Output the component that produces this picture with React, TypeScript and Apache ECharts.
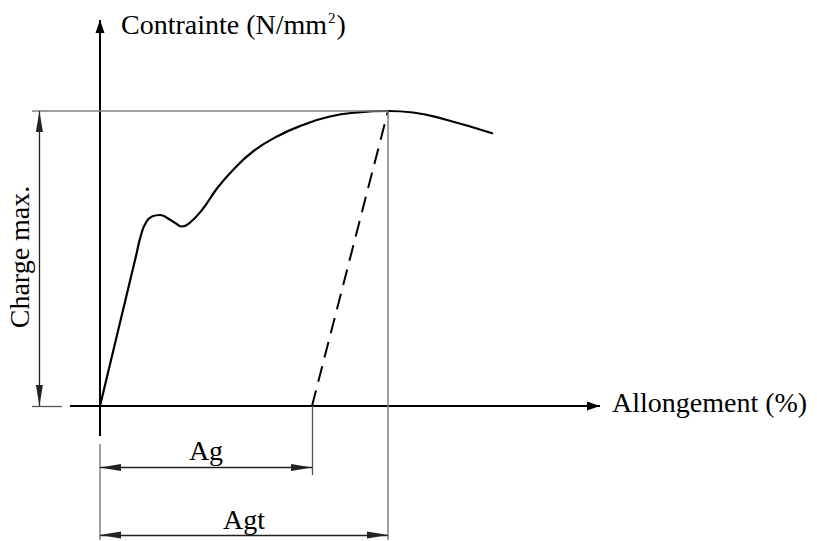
import React, { useEffect, useRef } from "react";
import * as echarts from "echarts";

// ---- Data (strain in %, stress in N/mm²) ----
const STRAIN = [0, 0.9, 1.8, 2.05, 2.3, 2.6, 3.0, 3.4, 3.8, 4.1, 4.45, 5.1, 5.85, 6.65, 7.65, 8.85, 10.15, 11.5, 12.85, 14.4, 15.65, 17.35, 19.65];
const STRESS = [0, 150, 300, 342, 367, 379, 382, 375, 365, 359, 365, 392, 435, 472, 509, 539, 562, 579, 587, 590, 587, 572, 545];
const RM = 590; // charge max
const AG = 10.6; // plastic elongation at max force
const AGT = 14.4; // total elongation at max force

// guide / dimension positions (data units)
const X_AXIS_RANGE = [-1.5, 25];
const Y_AXIS_RANGE = [-60, 772];
const CHARGE_X = -3.03;
const EXT_RANGE = [-3.4, -1.9];
const AG_DIM_Y = -123;
const AGT_DIM_Y = -258;
const AG_TICK_BOTTOM = -138;
const ORIGIN_TICK_TOP = -76;
const BOTTOM = -268;

// ---- Layout: pixel scale of the full-canvas grid ----
const W = 817;
const H = 541;
const ORIGIN_PX = [100, 406];
const PX_PER_X = 20;
const PX_PER_Y = 0.5;

const FONT = "Liberation Serif";

type P = [number, number];

function seg(a: P, b: P, color: string, width: number, symA = "none", symB = "none", size: number[] = [7, 21]) {
  return [
    { coord: a, symbol: symA, symbolSize: size, symbolOffset: [0, "50%"], lineStyle: { color, width, type: "solid" } },
    { coord: b, symbol: symB, symbolSize: size, symbolOffset: [0, "50%"] },
  ];
}

export default function App() {
  const ref = useRef<HTMLDivElement>(null);
  useEffect(() => {
    if (!ref.current) return;
    const chart = echarts.init(ref.current, undefined, { renderer: "svg" });
    const BLACK = "#000";
    const GREY = "#808080";
    const DIM = "#222";
    const lines = [
      // axes
      seg([0, Y_AXIS_RANGE[0]], [0, Y_AXIS_RANGE[1]], BLACK, 2, "none", "triangle", [9, 13]),
      seg([X_AXIS_RANGE[0], 0], [X_AXIS_RANGE[1], 0], BLACK, 2, "none", "triangle", [9, 13]),
      // extension lines
      seg([EXT_RANGE[0], RM], [AGT, RM], GREY, 1.5),
      seg([EXT_RANGE[0], 0], [EXT_RANGE[1], 0], "#555", 1.3),
      seg([AGT, RM], [AGT, BOTTOM], GREY, 1.5),
      seg([AG, 0], [AG, AG_TICK_BOTTOM], "#555", 1.3),
      seg([0, ORIGIN_TICK_TOP], [0, BOTTOM], GREY, 1.5),
      // dimension arrows
      seg([CHARGE_X, 0], [CHARGE_X, RM], DIM, 1.3, "triangle", "triangle"),
      seg([0, AG_DIM_Y], [AG, AG_DIM_Y], DIM, 1.3, "triangle", "triangle"),
      seg([0, AGT_DIM_Y], [AGT, AGT_DIM_Y], DIM, 1.3, "triangle", "triangle"),
    ];

    const xMin = -ORIGIN_PX[0] / PX_PER_X;
    const xMax = (W - ORIGIN_PX[0]) / PX_PER_X;
    const yMin = -(H - ORIGIN_PX[1]) / PX_PER_Y;
    const yMax = ORIGIN_PX[1] / PX_PER_Y;

    chart.setOption({
      animation: false,
      backgroundColor: "#fff",
      grid: { left: 0, right: 0, top: 0, bottom: 0 },
      xAxis: { type: "value", min: xMin, max: xMax, show: false },
      yAxis: { type: "value", min: yMin, max: yMax, show: false },
      series: [
        {
          type: "line",
          data: [],
          silent: true,
          markLine: {
            silent: true,
            animation: false,
            label: { show: false },
            emphasis: { disabled: true },
            data: lines,
          },
        },
        {
          type: "line",
          data: STRAIN.map((x, i) => [x, STRESS[i]]),
          smooth: 0.5,
          showSymbol: false,
          silent: true,
          clip: false,
          lineStyle: { color: BLACK, width: 2.2 },
        },
        {
          type: "line",
          data: [[AG, 0], [AGT, RM]],
          showSymbol: false,
          silent: true,
          lineStyle: { color: BLACK, width: 2, type: [16, 9] },
        },
      ],
      graphic: [
        {
          type: "text",
          x: 121,
          y: 24,
          silent: true,
          style: {
            text: "{a|Contrainte (N/mm}{s|2}{a|)}",
            verticalAlign: "middle",
            rich: {
              a: { fontSize: 28, fontFamily: FONT, fill: BLACK },
              s: { fontSize: 15, fontFamily: FONT, fill: BLACK, verticalAlign: "top", padding: [0, 1, 0, 1] },
            },
          },
        },
        {
          type: "text",
          x: 612,
          y: 402,
          silent: true,
          style: { text: "Allongement (%)", fontSize: 28, fontFamily: FONT, fill: BLACK, verticalAlign: "middle" },
        },
        {
          type: "text",
          x: 19,
          y: 257,
          rotation: Math.PI / 2,
          silent: true,
          style: { text: "Charge max.", fontSize: 28, fontFamily: FONT, fill: BLACK, align: "center", verticalAlign: "middle" },
        },
        {
          type: "text",
          x: 206,
          y: 450.5,
          silent: true,
          style: { text: "Ag", fontSize: 28, fontFamily: FONT, fill: BLACK, align: "center", verticalAlign: "middle" },
        },
        {
          type: "text",
          x: 244,
          y: 519,
          silent: true,
          style: { text: "Agt", fontSize: 28, fontFamily: FONT, fill: BLACK, align: "center", verticalAlign: "middle" },
        },
      ],
    });
    return () => chart.dispose();
  }, []);
  return <div ref={ref} style={{ position: "absolute", left: 0, top: 0, width: W, height: H }} />;
}
